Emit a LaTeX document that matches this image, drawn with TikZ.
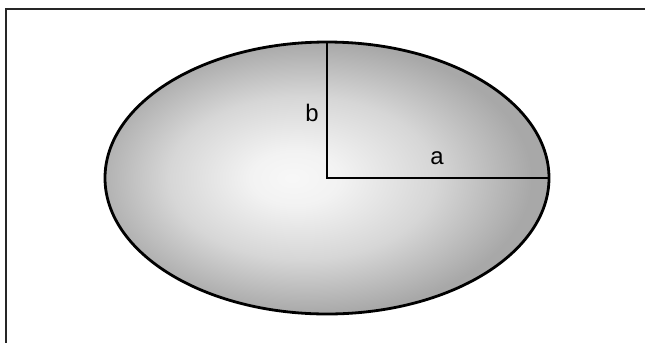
\documentclass[tikz,border=0pt]{standalone}
\usepackage{fontspec}
\setmainfont{Liberation Sans}
\pgfdeclareradialshading{ellshade}{\pgfpoint{-4bp}{0bp}}{%
  color(0bp)=(white!97!black);
  color(5bp)=(white!95!black);
  color(15bp)=(white!84!black);
  color(25bp)=(white!66!black);
  color(50bp)=(white!66!black)}
\tikzset{
  frame/.style={line width=1.5bp, black!85},
  ellline/.style={line width=2.8bp, black},
  axisline/.style={line width=2.8bp, black, line cap=rect},
  lbl/.style={font=\fontsize{24}{28}\selectfont, inner sep=0pt}
}
\begin{document}
\begin{tikzpicture}[x=1bp,y=-1bp]
  \useasboundingbox (0,0) rectangle (645,343);
  \fill[white] (0,0) rectangle (645,343);
  % partial frame (top and left)
  \coordinate (ftl) at (6,9);
  \coordinate (ftr) at (645,9);
  \coordinate (fbl) at (6,343);
  \draw[frame] (ftr) -- (ftl) -- (fbl);
  % ellipse
  \coordinate (c) at (327,178);
  \shade[shading=ellshade, draw=black, ellline] (c) ellipse [x radius=222, y radius=136];
  \coordinate (top) at (327,42);
  \coordinate (right) at (549,178);
  \draw[axisline] (top) -- (c) -- (right);
  \node[lbl] (b) at (312,113) {b};
  \node[lbl] (a) at (437,158) {a};
\end{tikzpicture}
\end{document}
